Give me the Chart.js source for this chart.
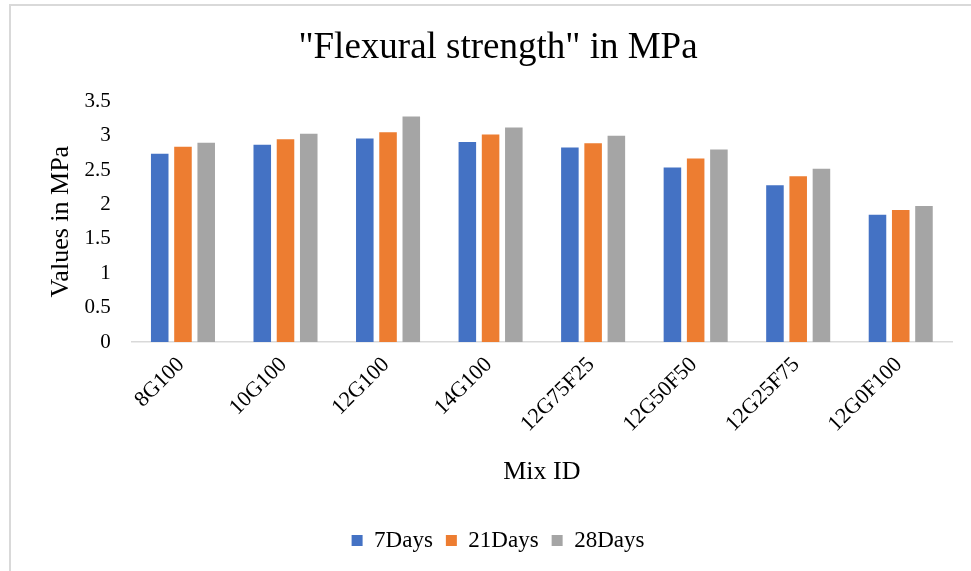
<!DOCTYPE html>
<html>
<head>
<meta charset="utf-8">
<script src="https://cdn.jsdelivr.net/npm/chart.js@4/dist/chart.umd.min.js"></script>
<style>
  html, body { margin: 0; padding: 0; background: #fff; }
  #wrap { position: relative; width: 971px; height: 571px; overflow: hidden; }
  #frame {
    position: absolute; left: 9px; top: 4px; width: 1000px; height: 600px;
    border-left: 2px solid #d9d9d9; border-top: 2px solid #d9d9d9;
    box-sizing: border-box; pointer-events: none;
  }
  canvas { position: absolute; left: 0; top: 0; }
</style>
</head>
<body>
<div id="wrap">
  <canvas id="chart" width="971" height="571"></canvas>
  <div id="frame"></div>
</div>
<script>
// Mix designs along the x axis
const mixIds = ["8G100", "10G100", "12G100", "14G100", "12G75F25", "12G50F50", "12G25F75", "12G0F100"];

// Flexural strength (MPa) at each curing age
const days7  = [2.74, 2.87, 2.96, 2.91, 2.83, 2.54, 2.28, 1.85];
const days21 = [2.84, 2.95, 3.05, 3.02, 2.89, 2.67, 2.41, 1.92];
const days28 = [2.90, 3.03, 3.28, 3.12, 3.00, 2.80, 2.52, 1.98];

const seriesNames = ["7Days", "21Days", "28Days"];
const seriesColors = ["#4472C4", "#ED7D31", "#A5A5A5"];

const serif = "'Liberation Serif', 'Times New Roman', serif";

new Chart(document.getElementById("chart"), {
  type: "bar",
  data: {
    labels: mixIds,
    datasets: [days7, days21, days28].map((values, i) => ({
      label: seriesNames[i],
      data: values,
      backgroundColor: seriesColors[i],
      borderWidth: 0,
      categoryPercentage: 0.68,
      barPercentage: 0.755
    }))
  },
  options: {
    responsive: false,
    animation: false,
    layout: { padding: { left: 44, right: 19, top: 14, bottom: 9 } },
    plugins: {
      tooltip: { enabled: false },
      title: {
        display: true,
        text: '"Flexural strength" in MPa',
        color: "#000",
        font: { family: serif, size: 37, weight: "normal", lineHeight: 1.2 },
        padding: { top: 12, bottom: 31 }
      },
      legend: {
        display: true,
        position: "bottom",
        labels: {
          color: "#000",
          font: { family: serif, size: 23 },
          boxWidth: 11,
          boxHeight: 11,
          padding: 13
        }
      }
    },
    scales: {
      x: {
        grid: { display: false, drawTicks: false },
        border: { display: true, color: "#d9d9d9", width: 1.5 },
        ticks: {
          color: "#000",
          font: { family: serif, size: 22 },
          minRotation: 45,
          maxRotation: 45,
          padding: 10,
          labelOffset: -2
        },
        title: {
          display: true,
          text: "Mix ID",
          color: "#000",
          font: { family: serif, size: 26, lineHeight: 1.2 },
          padding: { top: 4, bottom: 28 }
        },
        afterFit: (scale) => { scale.height = 174; }
      },
      y: {
        min: 0,
        max: 3.5,
        grid: { display: false, drawTicks: false },
        border: { display: false },
        ticks: {
          stepSize: 0.5,
          color: "#000",
          font: { family: serif, size: 21 },
          padding: 21,
          callback: (value) => String(value)
        },
        title: {
          display: true,
          text: "Values in MPa",
          color: "#000",
          font: { family: serif, size: 26, lineHeight: 1.2 },
          padding: { top: 2, bottom: 0 }
        },
        afterFit: (scale) => { scale.width = 87.7; }
      }
    }
  }
});
</script>
</body>
</html>
